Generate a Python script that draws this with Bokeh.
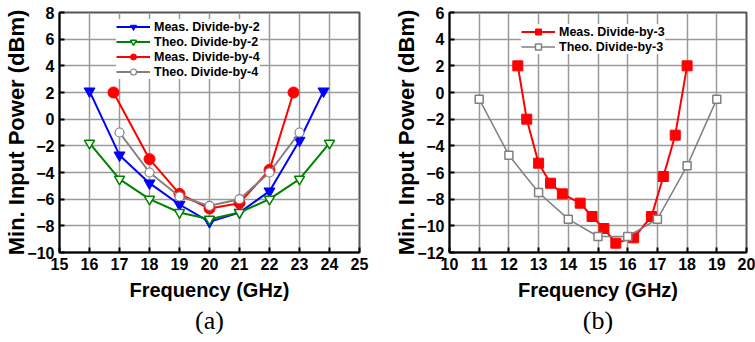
from bokeh.plotting import figure
from bokeh.layouts import row
from bokeh.models import FixedTicker, Title, Legend
from bokeh.embed import file_html
from bokeh.resources import INLINE

# ---------------- data (a) ----------------
meas2_x = [16, 17, 18, 19, 20, 21, 22, 23, 23.8]
meas2_y = [2.1, -2.7, -4.8, -6.4, -7.7, -7.0, -5.4, -1.6, 2.1]
theo2_x = [16, 17, 18, 19, 20, 21, 22, 23, 24]
theo2_y = [-1.8, -4.5, -6.0, -7.0, -7.5, -7.0, -6.0, -4.5, -1.8]
meas4_x = [16.8, 18, 19, 20, 21, 22, 22.8]
meas4_y = [2.0, -3.0, -5.6, -6.7, -6.3, -3.8, 2.0]
theo4_x = [17, 18, 19, 20, 21, 22, 23]
theo4_y = [-1.0, -4.0, -5.8, -6.5, -6.0, -4.0, -1.0]
xticks_a = list(range(15, 26))
yticks_a = list(range(-10, 9, 2))

# ---------------- data (b) ----------------
meas3_x = [12.3, 12.6, 13.0, 13.4, 13.8, 14.4, 14.8, 15.2, 15.6, 16.2, 16.8, 17.2, 17.6, 18.0]
meas3_y = [2.0, -2.0, -5.3, -6.8, -7.6, -8.3, -9.3, -10.2, -11.3, -10.9, -9.3, -6.3, -3.2, 2.0]
theo3_x = [11, 12, 13, 14, 15, 16, 17, 18, 19]
theo3_y = [-0.5, -4.7, -7.5, -9.5, -10.8, -10.8, -9.5, -5.5, -0.5]
xticks_b = list(range(10, 21))
yticks_b = list(range(-12, 7, 2))

FONT = "Liberation Sans"


def style(p, xticks, yticks, caption):
    p.xaxis.ticker = FixedTicker(ticks=xticks)
    p.yaxis.ticker = FixedTicker(ticks=yticks)
    for ax in (p.xaxis[0], p.yaxis[0]):
        ax.axis_line_width = 2
        ax.axis_line_color = "black"
        ax.major_tick_in = 5
        ax.major_tick_out = 0
        ax.major_tick_line_width = 2
        ax.minor_tick_line_color = None
        ax.major_label_text_font = FONT
        ax.major_label_text_font_style = "bold"
        ax.major_label_text_font_size = "16px"
        ax.major_label_text_color = "black"
        ax.axis_label_text_font = FONT
        ax.axis_label_text_font_style = "bold"
        ax.axis_label_text_color = "black"
        ax.major_label_standoff = 5
    p.xaxis.axis_label_text_font_size = "20px"
    p.yaxis.axis_label_text_font_size = "22px"
    p.xaxis.axis_label_standoff = 6
    p.yaxis.axis_label_standoff = -5
    p.grid.grid_line_color = "#9a9a9a"
    p.grid.grid_line_width = 1.5
    p.outline_line_color = "#555555"
    p.outline_line_width = 2
    p.outline_line_alpha = 1
    cap = Title(text=caption, align="center", text_font="Liberation Serif",
                text_font_style="normal", text_font_size="26px", text_color="black",
                standoff=0)
    p.add_layout(cap, "below")


# ---------------- figure (a) ----------------
pa = figure(frame_width=300, frame_height=240, x_range=(15, 25), y_range=(-10, 8),
            output_backend="svg", toolbar_location=None,
            min_border_left=59, min_border_right=10, min_border_top=12, min_border_bottom=78,
            x_axis_label="Frequency (GHz)", y_axis_label="Min. Input Power (dBm)")
pa.background_fill_color = "white"

r = []
r.append(pa.line(meas2_x, meas2_y, line_color="#0000ff", line_width=2))
r.append(pa.scatter(meas2_x, meas2_y, marker="inverted_triangle", size=11,
                    fill_color="#0000ff", line_color="#0000ff"))
r.append(pa.line(theo2_x, theo2_y, line_color="#008000", line_width=2))
r.append(pa.scatter(theo2_x, theo2_y, marker="inverted_triangle", size=10,
                    fill_color="white", line_color="#008000", line_width=1.5))
r.append(pa.line(meas4_x, meas4_y, line_color="#ff0000", line_width=2))
r.append(pa.scatter(meas4_x, meas4_y, marker="circle", size=11,
                    fill_color="#ff0000", line_color="#ff0000"))
r.append(pa.line(theo4_x, theo4_y, line_color="#808080", line_width=2))
r.append(pa.scatter(theo4_x, theo4_y, marker="circle", size=9,
                    fill_color="white", line_color="#808080", line_width=1.2))

leg_a = Legend(items=[("Meas. Divide-by-2", [r[0], r[1]]),
                      ("Theo. Divide-by-2", [r[2], r[3]]),
                      ("Meas. Divide-by-4", [r[4], r[5]]),
                      ("Theo. Divide-by-4", [r[6], r[7]])],
               location=(57, 173))
style(pa, xticks_a, yticks_a, "(a)")

# ---------------- figure (b) ----------------
pb = figure(frame_width=297, frame_height=240, x_range=(10, 20), y_range=(-12, 6),
            output_backend="svg", toolbar_location=None,
            min_border_left=80, min_border_right=9, min_border_top=12, min_border_bottom=78,
            x_axis_label="Frequency (GHz)", y_axis_label="Min. Input Power (dBm)")
q = []
q.append(pb.line(meas3_x, meas3_y, line_color="#ff0000", line_width=2))
q.append(pb.scatter(meas3_x, meas3_y, marker="square", size=10,
                    fill_color="#ff0000", line_color="#ff0000"))
q.append(pb.line(theo3_x, theo3_y, line_color="#808080", line_width=1.5))
q.append(pb.scatter(theo3_x, theo3_y, marker="square", size=8,
                    fill_color="white", line_color="#808080", line_width=1.5))
leg_b = Legend(items=[("Meas. Divide-by-3", [q[0], q[1]]),
                      ("Theo. Divide-by-3", [q[2], q[3]])],
               location=(72, 198))
style(pb, xticks_b, yticks_b, "(b)")

for p, leg in ((pa, leg_a), (pb, leg_b)):
    leg.label_text_font = FONT
    leg.label_text_font_style = "bold"
    leg.label_text_font_size = "12.5px"
    leg.label_text_color = "black"
    leg.glyph_width = 34
    leg.glyph_height = 15
    leg.label_height = 15
    leg.spacing = 0
    leg.padding = 4
    leg.margin = 0
    leg.label_standoff = 4
    leg.border_line_color = None
    leg.background_fill_color = "white"
    leg.background_fill_alpha = 1
    p.add_layout(leg, "center")

layout = row(pa, pb)
open("out.html", "w").write(file_html(layout, INLINE))
